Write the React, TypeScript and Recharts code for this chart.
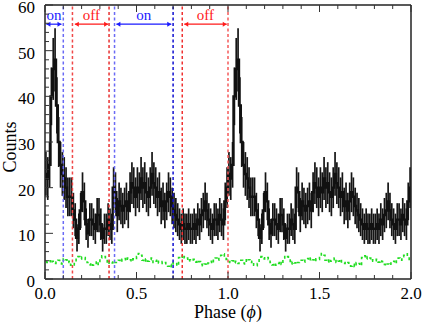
import React from 'react';
import { ComposedChart, Line, XAxis, YAxis, ErrorBar, ReferenceLine } from 'recharts';

// source counts per 0.01 phase bin (one cycle, drawn twice)
const binCounts = [
  23, 22, 25, 40, 46, 48, 38, 30, 25, 23,
  22, 20, 18, 18, 18, 15, 13, 9, 11, 15,
  19, 17, 12, 10, 13, 13, 12, 11, 14, 14,
  12, 9, 11, 11, 13, 12, 11, 20, 19, 14,
  17, 16, 15, 16, 17, 15, 19, 21, 20, 18,
  20, 19, 22, 20, 21, 19, 18, 20, 23, 21,
  20, 18, 19, 16, 17, 15, 17, 19, 18, 16,
  15, 14, 13, 12, 11, 12, 11, 11, 12, 11,
  11, 12, 11, 13, 12, 14, 15, 17, 15, 13,
  12, 11, 13, 13, 12, 14, 13, 12, 17, 20,
];

// background counts (green dashed)
const bgCounts = [
  3.8, 3.6, 4.0, 3.5, 3.9, 3.4, 3.7, 4.1, 3.5, 3.3,
  4.5, 4.2, 3.6, 3.9, 3.0, 2.9, 3.4, 4.6, 4.9, 4.4,
  4.8, 4.7, 4.3, 3.6, 3.1, 3.5, 3.0, 3.4, 3.9, 3.2,
  4.6, 5.1, 4.9, 4.4, 3.3, 3.8, 3.5, 3.9, 3.6, 3.8,
  4.1, 3.7, 4.3, 4.5, 4.0, 4.6, 4.2, 3.8, 4.4, 4.3,
  4.9, 5.6, 5.2, 4.1, 3.7, 4.4, 3.9, 4.2, 4.6, 3.6,
  3.9, 4.3, 3.5, 3.4, 3.8, 3.6, 3.1, 2.8, 3.2, 2.7,
  3.6, 3.4, 2.9, 4.7, 5.1, 4.4, 4.9, 4.6, 3.9, 4.2,
  4.0, 4.3, 3.7, 4.1, 3.8, 3.2, 2.9, 3.3, 3.0, 3.5,
  3.9, 3.4, 4.3, 4.6, 4.1, 4.9, 5.2, 5.5, 4.8, 4.3,
];

const cycles = [0, 1];
const binWidth = 0.01;

const xTicks = [0, 0.1, 0.2, 0.3, 0.4, 0.5, 0.6, 0.7, 0.8, 0.9, 1.0, 1.1, 1.2, 1.3, 1.4, 1.5, 1.6, 1.7, 1.8, 1.9, 2.0];
const yTicks = [0, 2, 4, 6, 8, 10, 12, 14, 16, 18, 20, 22, 24, 26, 28, 30, 32, 34, 36, 38, 40, 42, 44, 46, 48, 50, 52, 54, 56, 58, 60];

const cutLines = [
  { phase: 0.1, color: '#6a6af5' },
  { phase: 0.15, color: '#f04848' },
  { phase: 0.35, color: '#e83030' },
  { phase: 0.38, color: '#6a6af5' },
  { phase: 0.7, color: '#1010d0' },
  { phase: 0.75, color: '#f03030' },
  { phase: 1.0, color: '#f55a5a' },
];

const intervals = [
  { label: 'on', from: 0.008, to: 0.09, color: '#1a1aff' },
  { label: 'off', from: 0.163, to: 0.345, color: '#ff1a1a' },
  { label: 'on', from: 0.39, to: 0.69, color: '#1a1aff' },
  { label: 'off', from: 0.761, to: 0.993, color: '#ff1a1a' },
];
const arrowLevel = 55.8;

const data = cycles.flatMap((c) =>
  binCounts.map((v, i) => ({
    phase: c + (i + 0.5) * binWidth,
    counts: v,
    err: Math.sqrt(v),
    bg: bgCounts[i],
  }))
);

const serif = { fontFamily: "'Liberation Serif', 'Times New Roman', serif" };
const tickColor = '#333';

const isMajorX = (v: number) => Math.abs(v * 2 - Math.round(v * 2)) < 1e-6;
const isMajorY = (v: number) => v % 10 === 0;

const BottomTick = ({ x, y, payload }: any) => {
  const major = isMajorX(payload.value);
  return (
    <g>
      <line x1={x} y1={y} x2={x} y2={y - (major ? 7 : 4)} stroke={tickColor} />
      {major && (
        <text x={x} y={y + 20} textAnchor="middle" fontSize={17} style={serif} fill="#000">
          {payload.value.toFixed(1)}
        </text>
      )}
    </g>
  );
};

const TopTick = ({ x, y, payload }: any) => {
  const major = isMajorX(payload.value);
  return <line x1={x} y1={y} x2={x} y2={y + (major ? 7 : 4)} stroke={tickColor} />;
};

const LeftTick = ({ x, y, payload }: any) => {
  const major = isMajorY(payload.value);
  return (
    <g>
      <line x1={x} y1={y} x2={x + (major ? 8 : 4)} y2={y} stroke={tickColor} />
      {major && (
        <text x={x - 10} y={y + 8} textAnchor="end" fontSize={17} style={serif} fill="#000">
          {payload.value}
        </text>
      )}
    </g>
  );
};

const RightTick = ({ x, y, payload }: any) => {
  const major = isMajorY(payload.value);
  return <line x1={x} y1={y} x2={x - (major ? 8 : 4)} y2={y} stroke={tickColor} />;
};

const arrowShape = (label: string, color: string) => (props: any) => {
  const { x1, y1, x2, y2 } = props;
  const h = 4;
  const w = 2.5;
  return (
    <g>
      <line x1={x1} y1={y1} x2={x2} y2={y2} stroke={color} strokeWidth={1.2} />
      <polygon points={`${x1},${y1} ${x1 + h},${y1 - w} ${x1 + h},${y1 + w}`} fill={color} />
      <polygon points={`${x2},${y2} ${x2 - h},${y2 - w} ${x2 - h},${y2 + w}`} fill={color} />
      <text x={(x1 + x2) / 2} y={y1 - 4} textAnchor="middle" fontSize={15} style={serif} fill={color}>
        {label}
      </text>
    </g>
  );
};

const frame = { stroke: '#222', strokeWidth: 1.5 };

export default function App() {
  return (
    <div style={{ position: 'absolute', left: 0, top: 0 }}>
      <ComposedChart width={422} height={324} data={data} margin={{ top: 4, right: 10, bottom: 44, left: 44 }}>
        <XAxis
          dataKey="phase"
          type="number"
          domain={[0, 2]}
          ticks={xTicks}
          interval={0}
          height={1}
          tickSize={0}
          tickMargin={0}
          tickLine={false}
          axisLine={frame}
          tick={<BottomTick />}
          label={{
            content: ({ viewBox }: any) => (
              <text
                x={viewBox.x + viewBox.width / 2}
                y={viewBox.y + 39}
                textAnchor="middle"
                fontSize={18}
                style={serif}
                fill="#000"
              >
                Phase (<tspan fontStyle="italic">ϕ</tspan>)
              </text>
            ),
          }}
        />
        <XAxis
          xAxisId="top"
          orientation="top"
          dataKey="phase"
          type="number"
          domain={[0, 2]}
          ticks={xTicks}
          interval={0}
          height={1}
          tickSize={0}
          tickMargin={0}
          tickLine={false}
          axisLine={frame}
          tick={<TopTick />}
        />
        <YAxis
          type="number"
          domain={[0, 60]}
          ticks={yTicks}
          interval={0}
          width={1}
          tickSize={0}
          tickMargin={0}
          tickLine={false}
          axisLine={frame}
          tick={<LeftTick />}
          label={{
            content: ({ viewBox }: any) => {
              const cx = 15.5;
              const cy = viewBox.y + viewBox.height / 2 + 5;
              return (
                <text
                  x={cx}
                  y={cy}
                  transform={`rotate(-90, ${cx}, ${cy})`}
                  textAnchor="middle"
                  fontSize={18}
                  style={serif}
                  fill="#000"
                >
                  Counts
                </text>
              );
            },
          }}
        />
        <YAxis
          yAxisId="right"
          orientation="right"
          type="number"
          domain={[0, 60]}
          ticks={yTicks}
          interval={0}
          width={1}
          tickSize={0}
          tickMargin={0}
          tickLine={false}
          axisLine={frame}
          tick={<RightTick />}
        />
        <Line
          dataKey="bg"
          type="step"
          stroke="#22dd22"
          strokeWidth={1.6}
          strokeDasharray="3 3"
          dot={false}
          isAnimationActive={false}
        />
        <Line dataKey="counts" type="step" stroke="#111" strokeWidth={2.4} dot={false} isAnimationActive={false}>
          <ErrorBar dataKey="err" width={0} stroke="#151515" strokeWidth={1.7} direction="y" />
        </Line>
        {cutLines.map((l) => (
          <ReferenceLine
            key={l.phase}
            x={l.phase}
            stroke={l.color}
            strokeWidth={1.5}
            strokeDasharray="3 2.5"
          />
        ))}
        {intervals.map((a) => (
          <ReferenceLine
            key={a.from}
            segment={[
              { x: a.from, y: arrowLevel },
              { x: a.to, y: arrowLevel },
            ]}
            shape={arrowShape(a.label, a.color)}
          />
        ))}
      </ComposedChart>
    </div>
  );
}
